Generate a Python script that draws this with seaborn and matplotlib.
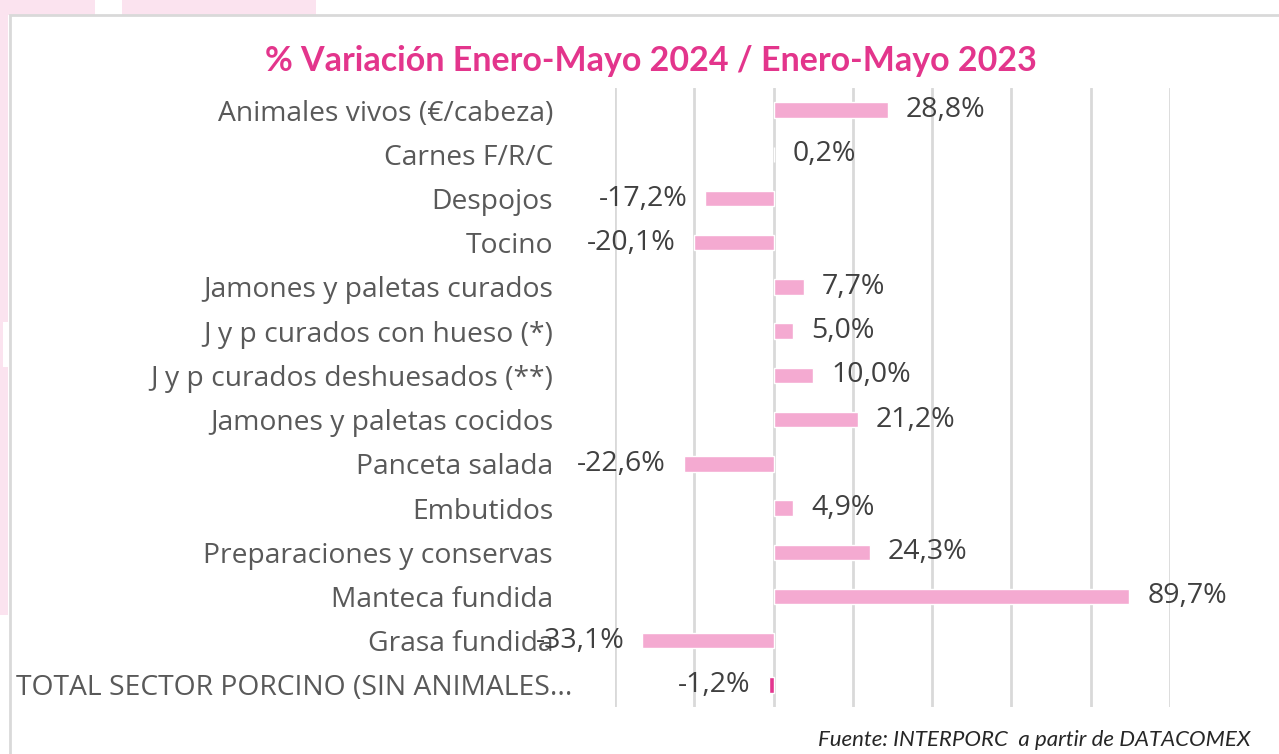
import matplotlib
matplotlib.use("Agg")
import matplotlib.pyplot as plt
import matplotlib.patches as mpatches
from matplotlib.transforms import ScaledTranslation
import seaborn as sns
import pandas as pd

# Data
categories = [
    "Animales vivos (€/cabeza)",
    "Carnes F/R/C",
    "Despojos",
    "Tocino",
    "Jamones y paletas curados",
    "J y p curados con hueso (*)",
    "J y p curados deshuesados (**)",
    "Jamones y paletas cocidos",
    "Panceta salada",
    "Embutidos",
    "Preparaciones y conservas",
    "Manteca fundida",
    "Grasa fundida",
    "TOTAL SECTOR PORCINO (SIN ANIMALES...",
]
variation = [28.8, 0.2, -17.2, -20.1, 7.7, 5.0, 10.0, 21.2, -22.6, 4.9, 24.3, 89.7, -33.1, -1.2]
x_ticks = [-40, -20, 0, 20, 40, 60, 80, 100]

title = "% Variación Enero-Mayo 2024 / Enero-Mayo 2023"
source = "Fuente: INTERPORC  a partir de DATACOMEX"

BAR_PINK = "#f4aad1"
TOTAL_PINK = "#e3368f"
TITLE_PINK = "#e3358c"
GRID = "#d9d9d9"
FONT = ["Lato", "DejaVu Sans"]
LABEL_FONT = ["Open Sans", "DejaVu Sans"]

sns.set_theme(style="white")
plt.rcParams["font.family"] = FONT

df = pd.DataFrame({"cat": categories, "val": variation})
palette = {c: (TOTAL_PINK if c.startswith("TOTAL") else BAR_PINK) for c in categories}

W, H = 1279, 754
fig = plt.figure(figsize=(W / 100, H / 100), dpi=100)

# page decoration behind the chart frame
deco = "#fbe3ef"
for (x0, y0, w, h) in [(0, 0, 95, 15), (122, 0, 194, 15), (0, 0, 8, 322), (0, 322, 3, 45), (0, 367, 8, 248)]:
    fig.patches.append(mpatches.Rectangle((x0 / W, 1 - (y0 + h) / H), w / W, h / H,
                                          transform=fig.transFigure, facecolor=deco,
                                          edgecolor="none", zorder=-3))
fig.patches.append(mpatches.Rectangle((10 / W, -0.01), 1.01, 1 - 15 / H + 0.01,
                                      transform=fig.transFigure, facecolor="white",
                                      edgecolor=GRID, linewidth=2, zorder=-2))

ax = fig.add_axes([615 / W, 1 - 707 / H, 555 / W, 619 / H])
ax.set_facecolor("none")
sns.barplot(data=df, x="val", y="cat", hue="cat", palette=palette, legend=False,
            width=0.35, saturation=1, ax=ax, zorder=3)

ax.set_xlim(-40, 100)
ax.set_xticks(x_ticks)
ax.tick_params(axis="x", length=0, labelbottom=False)
ax.tick_params(axis="y", length=0, pad=44.6, labelcolor="#595959")
for lbl in ax.get_yticklabels():
    lbl.set_family(LABEL_FONT)
    lbl.set_fontsize(20.3)
ax.grid(axis="x", color=GRID, linewidth=2, zorder=0)
ax.grid(axis="y", visible=False)
ax.set_axisbelow(True)
for s in ax.spines.values():
    s.set_visible(False)
ax.set_xlabel("")
ax.set_ylabel("")

# the long total label is pushed a little to the right
last = ax.get_yticklabels()[-1]
last.set_transform(last.get_transform() + ScaledTranslation(0.19, 0, fig.dpi_scale_trans))

for cont in ax.containers:
    ax.bar_label(cont, fmt=lambda v: f"{v:.1f}%".replace(".", ","), padding=13,
                 fontsize=20.5, color="#404040", family=LABEL_FONT)

fig.text(651 / W, 1 - 61 / H, title, ha="center", va="center", fontsize=24.5,
         fontweight="bold", color=TITLE_PINK)
fig.text(1250 / W, 1 - 740 / H, source, ha="right", va="center", fontsize=16,
         fontstyle="italic", color="#262626")

fig.savefig("out.png", dpi=100)
